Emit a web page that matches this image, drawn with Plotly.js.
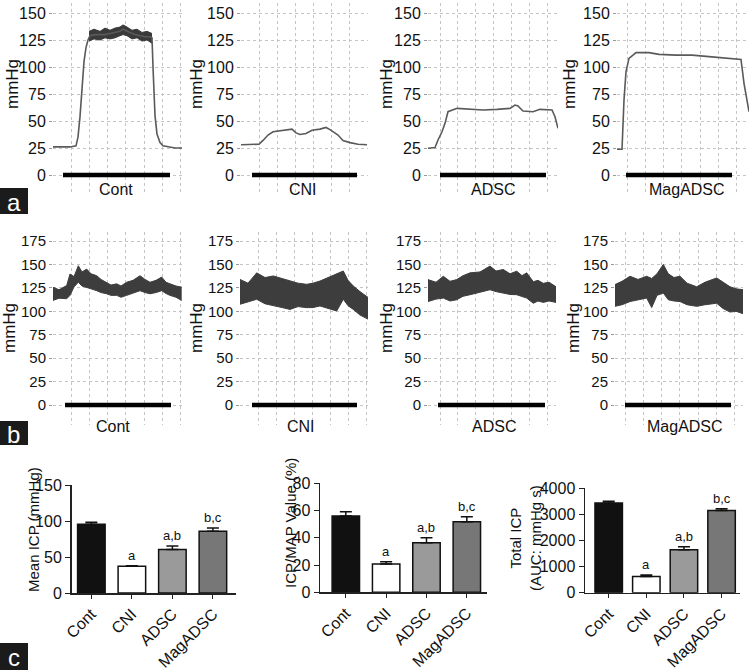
<!DOCTYPE html>
<html><head><meta charset="utf-8">
<script src="https://cdn.plot.ly/plotly-3.0.1.min.js"></script>
<style>html,body{margin:0;padding:0;background:#fff}#chart{width:749px;height:670px}</style>
</head><body><div id="chart"></div>
<script>
// ---------- DATA ----------
const groups = ['Cont', 'CNI', 'ADSC', 'MagADSC'];

// Row a: ICP traces (time in arbitrary units, pressure in mmHg)
const aContT = [0, 9, 17, 23, 25, 27, 29, 31, 33, 35, 37, 42, 47, 52, 57, 62, 67, 70, 74, 77, 82, 87, 92, 97, 99, 100, 101, 102, 104, 107, 110, 117, 122, 129];
const aContV = [26, 26, 26, 27, 35, 54, 85, 105, 118, 125, 129, 130, 130, 130, 131, 132, 133, 135, 133, 132, 130, 129, 128, 128, 127, 100, 75, 55, 38, 30, 27, 26, 25, 25];
const aContBandT = [36, 41, 47, 52, 57, 62, 67, 70, 74, 79, 84, 89, 94, 99];
const aContBandHi = [133, 135, 133, 136, 134, 136, 137, 139, 137, 134, 135, 132, 133, 131];
const aContBandLo = [124, 126, 125, 127, 126, 127, 129, 130, 129, 126, 127, 124, 125, 122];
const aCniT = [0, 9, 18, 22, 27, 32, 39, 47, 51, 55, 59, 65, 71, 79, 85, 89, 93, 97, 102, 109, 117, 126];
const aCniV = [28, 28, 28.5, 32, 37, 40, 41, 42, 42.5, 39, 37.5, 38.5, 41.5, 42.5, 44, 42, 39.5, 37, 32, 30, 28.5, 28];
const aAdscT = [0, 7, 10, 14, 17, 20, 29, 42, 55, 69, 82, 87, 90, 95, 105, 112, 124, 127, 130];
const aAdscV = [24.7, 25.5, 32.4, 40, 47.8, 58.6, 61.7, 60.8, 60.2, 60.8, 61.7, 64.8, 63.9, 59.3, 58.6, 60.8, 60.2, 54, 43.2];
const aMagT = [0, 5, 7, 9, 12, 19, 32, 42, 59, 75, 92, 109, 124, 127, 132];
const aMagV = [23.8, 23.8, 69.4, 95.7, 108, 113.3, 113.3, 111.7, 111, 111, 109.6, 108, 107, 84.9, 58.6];
const stimStartA = [10, 11, 12, 9];
const stimEndA = [117, 116, 118, 115];

// Row b: MAP traces (upper / lower envelope of the pulsatile signal)
const bContT = [0, 6, 13.7, 17, 21, 25.3, 29, 33.7, 38, 43.7, 48, 53.7, 58, 63.7, 68, 73.7, 80, 87, 92, 97, 103, 108.7, 113, 117, 123, 128.7];
const bContHi = [125.7, 123, 127.5, 139.8, 137, 148.6, 142, 145, 140, 138, 134, 131, 128, 129.3, 127, 131, 133, 138, 134, 131, 133, 136.5, 131, 129.3, 127, 125.7];
const bContLo = [111.6, 114, 113.4, 117, 126, 131, 127, 125.7, 124, 122, 120, 118.7, 117, 117, 115, 117, 119, 122, 120, 118.7, 120, 122, 119, 117, 115, 111.6];
const bCniT = [0, 8, 16.7, 25, 33.3, 42, 50, 58, 66.7, 73, 80, 88, 96.7, 103.3, 108, 113.3, 120, 128.3];
const bCniHi = [134, 130, 141, 136, 137.7, 135, 132.3, 130, 128.8, 130, 132.3, 136, 139.5, 143, 133, 127, 121, 114.6];
const bCniLo = [107.5, 110, 112.8, 108, 105.7, 104, 102, 105, 103.9, 104, 105.7, 103, 100.3, 112.8, 106, 102, 96, 91.5];
const bAdscT = [0, 8, 15.3, 22, 28.7, 35, 42, 52, 62, 68, 75.3, 82, 88.7, 94, 98.7, 105.3, 110, 115.3, 121, 128];
const bAdscHi = [133.8, 131, 137.4, 132, 133.8, 138, 141, 142, 148.2, 143, 144.6, 140, 142.8, 138, 141, 131.6, 133, 129.8, 131, 126.2];
const bAdscLo = [110.4, 113, 114.1, 111, 112.3, 116, 117.7, 120, 123, 121, 119.5, 118, 117.7, 116, 114.1, 108.6, 111, 109.5, 111, 109.5];
const bMagT = [0, 7, 15, 23, 31.7, 36.7, 42, 48.3, 53.3, 59, 65, 72, 81.7, 90, 101.7, 108, 115, 121, 128.3];
const bMagHi = [128.5, 132, 137.4, 134, 137.4, 135, 140, 150, 140, 136, 137.4, 130, 126.2, 131, 135.6, 131, 126.2, 124, 123];
const bMagLo = [105.3, 107, 110.4, 112, 114.1, 104, 117, 119.5, 112.3, 111, 110.4, 107, 105.3, 107, 108.6, 103, 99.2, 100, 97.4];
const stimStartB = [12, 12, 10, 10];
const stimEndB = [118, 117, 117, 116];

// Row c: bar summaries
const meanICP = [95.4, 37, 60.3, 85.7];
const meanICPErr = [3, 1, 5, 4.5];
const icpMap = [56, 20.8, 36.4, 51.8];
const icpMapErr = [3.2, 1.7, 3.7, 3.7];
const totalICP = [3440, 620, 1650, 3150];
const totalICPErr = [60, 60, 110, 70];
const sigLabels = ['', 'a', 'a,b', 'b,c'];

// ---------- LAYOUT HELPERS ----------
const W = 749, H = 670;
const px = x => x / W;
const py = y => 1 - y / H;
const FONT = 'Liberation Sans, Arial, sans-serif';
const barColors = ['#111111', '#ffffff', '#9a9a9a', '#777777'];

const traces = [];
const layout = {
  width: W, height: H, margin: {l: 0, r: 0, t: 0, b: 0},
  paper_bgcolor: '#fff', plot_bgcolor: 'rgba(0,0,0,0)',
  showlegend: false, font: {family: FONT, color: '#111'},
  shapes: [], annotations: []
};

// time-series panels
const ts = [
  {x: [53, 182], y: [3, 193], yr: [-16.67, 159.26], w: 129, t0: 0, dt: 18.2, tv: [0, 25, 50, 75, 100, 125, 150], fs: 16},
  {x: [241, 368], y: [3, 193], yr: [-16.67, 159.26], w: 127, t0: 0, dt: 18.1, tv: [0, 25, 50, 75, 100, 125, 150], fs: 16},
  {x: [428, 558], y: [3, 193], yr: [-16.67, 159.26], w: 130, t0: 12, dt: 17.9, tv: [0, 25, 50, 75, 100, 125, 150], fs: 16},
  {x: [617, 749], y: [3, 193], yr: [-16.67, 159.26], w: 132, t0: 10, dt: 18.3, tv: [0, 25, 50, 75, 100, 125, 150], fs: 16},
  {x: [53, 182], y: [232, 425], yr: [-21.3, 184.6], w: 129, t0: 0, dt: 18.2, tv: [0, 25, 50, 75, 100, 125, 150, 175], fs: 15},
  {x: [240, 368], y: [232, 425], yr: [-21.3, 184.6], w: 128, t0: 0, dt: 18.1, tv: [0, 25, 50, 75, 100, 125, 150, 175], fs: 15},
  {x: [428, 556], y: [232, 425], yr: [-21.3, 184.6], w: 128, t0: 12, dt: 17.9, tv: [0, 25, 50, 75, 100, 125, 150, 175], fs: 15},
  {x: [615, 743], y: [232, 425], yr: [-21.3, 184.6], w: 128, t0: 10, dt: 18.3, tv: [0, 25, 50, 75, 100, 125, 150, 175], fs: 15}
];
ts.forEach((p, i) => {
  const n = i + 1;
  const xk = n === 1 ? 'xaxis' : 'xaxis' + n;
  const yk = n === 1 ? 'yaxis' : 'yaxis' + n;
  layout[xk] = {
    domain: [px(p.x[0]), px(p.x[1])], range: [0, p.w], anchor: 'y' + (n === 1 ? '' : n),
    showticklabels: false, ticks: '', showgrid: true, gridcolor: '#c4c4c4', griddash: 'dot', gridwidth: 1,
    tick0: p.t0, dtick: p.dt, zeroline: false, showline: false, fixedrange: true
  };
  layout[yk] = {
    domain: [py(p.y[1]), py(p.y[0])], range: p.yr, anchor: 'x' + (n === 1 ? '' : n),
    tickvals: p.tv, ticks: 'outside', ticklen: 3, tickcolor: '#999', tickwidth: 1,
    showgrid: true, gridcolor: '#c4c4c4', griddash: 'dot', gridwidth: 1,
    zeroline: false, showline: false, tickfont: {size: p.fs, color: '#111', family: FONT}, fixedrange: true
  };
});
const ax = n => ({xaxis: n === 1 ? 'x' : 'x' + n, yaxis: n === 1 ? 'y' : 'y' + n});

// Row a traces
const aT = [aContT, aCniT, aAdscT, aMagT];
const aV = [aContV, aCniV, aAdscV, aMagV];
traces.push(Object.assign({x: aContBandT, y: aContBandLo, mode: 'lines', line: {color: '#3a3a3a', width: 1}}, ax(1)));
traces.push(Object.assign({x: aContBandT, y: aContBandHi, mode: 'lines', fill: 'tonexty', fillcolor: '#3a3a3a', line: {color: '#3a3a3a', width: 1}}, ax(1)));
for (let i = 0; i < 4; i++) {
  traces.push(Object.assign({x: aT[i], y: aV[i], mode: 'lines', line: {color: '#5a5a5a', width: 1.6}}, ax(i + 1)));
  traces.push(Object.assign({x: [stimStartA[i], stimEndA[i]], y: [0, 0], mode: 'lines', line: {color: '#000', width: 4.5}}, ax(i + 1)));
}
// Row b traces
const bT = [bContT, bCniT, bAdscT, bMagT];
const bHi = [bContHi, bCniHi, bAdscHi, bMagHi];
const bLo = [bContLo, bCniLo, bAdscLo, bMagLo];
for (let i = 0; i < 4; i++) {
  traces.push(Object.assign({x: bT[i], y: bLo[i], mode: 'lines', line: {color: '#3d3d3d', width: 1}}, ax(i + 5)));
  traces.push(Object.assign({x: bT[i], y: bHi[i], mode: 'lines', fill: 'tonexty', fillcolor: '#3d3d3d', line: {color: '#3d3d3d', width: 1}}, ax(i + 5)));
  traces.push(Object.assign({x: [stimStartB[i], stimEndB[i]], y: [0, 0], mode: 'lines', line: {color: '#000', width: 4.5}}, ax(i + 5)));
}

// Row labels for traces
const aLabX = [116, 303, 493, 687], bLabX = [113, 301, 494, 685];
const mmX = [13, 197, 387, 570], mmXb = [10, 197, 387, 574];
const ann = (x, y, text, size, extra) => Object.assign({xref: 'paper', yref: 'paper', x: px(x), y: py(y), text: text,
  showarrow: false, font: {size: size, color: '#111'}, xanchor: 'center', yanchor: 'middle'}, extra || {});
for (let i = 0; i < 4; i++) {
  layout.annotations.push(ann(aLabX[i], 190, groups[i], 16));
  layout.annotations.push(ann(bLabX[i], 426, groups[i], 16));
  layout.annotations.push(ann(mmX[i], 84, 'mmHg', 17, {textangle: -90}));
  layout.annotations.push(ann(mmXb[i], 328, 'mmHg', 17, {textangle: -90}));
}

// Bar charts
const bars = [
  {n: 9, x: [71.5, 236], y: [485, 593], xr: [-0.49, 3.57], yr: [0, 150], tv: [0, 50, 100, 150], vals: meanICP, err: meanICPErr, bw: 0.68},
  {n: 10, x: [320, 487], y: [483.3, 592.3], xr: [-0.64, 3.5], yr: [0, 80], tv: [0, 20, 40, 60, 80], vals: icpMap, err: icpMapErr, bw: 0.68},
  {n: 11, x: [585, 740], y: [488.3, 592.7], xr: [-0.63, 3.49], yr: [0, 4000], tv: [0, 1000, 2000, 3000, 4000], vals: totalICP, err: totalICPErr, bw: 0.73}
];
bars.forEach(b => {
  layout['xaxis' + b.n] = {
    domain: [px(b.x[0]), px(b.x[1])], range: b.xr, anchor: 'y' + b.n, type: 'category',
    showline: true, linecolor: '#222', linewidth: 1.5, ticks: 'outside', ticklen: 4, tickcolor: '#222',
    tickangle: -45, tickfont: {size: 16, color: '#111', family: FONT}, showgrid: false, zeroline: false, fixedrange: true
  };
  layout['yaxis' + b.n] = {
    domain: [py(b.y[1]), py(b.y[0])], range: b.yr, anchor: 'x' + b.n, tickvals: b.tv,
    showline: true, linecolor: '#222', linewidth: 1.5, ticks: 'outside', ticklen: 5, tickcolor: '#222',
    tickfont: {size: 16, color: '#111', family: FONT}, showgrid: false, zeroline: false, fixedrange: true
  };
  traces.push({
    type: 'bar', x: groups, y: b.vals, width: b.bw, xaxis: 'x' + b.n, yaxis: 'y' + b.n,
    marker: {color: barColors, line: {color: '#111', width: 1.5}},
    error_y: {type: 'data', symmetric: false, array: b.err, arrayminus: [0, 0, 0, 0], color: '#111', thickness: 1.5, width: 6}
  });
  for (let i = 0; i < 4; i++) {
    if (!sigLabels[i]) continue;
    layout.annotations.push({xref: 'x' + b.n, yref: 'y' + b.n, x: groups[i], y: b.vals[i] + b.err[i], text: sigLabels[i],
      showarrow: false, xanchor: 'center', yanchor: 'bottom', yshift: 1, font: {size: 13, color: '#111'}});
  }
});
layout.annotations.push(ann(33, 530, 'Mean ICP (mmHg)', 15, {textangle: -90}));
layout.annotations.push(ann(290, 523, 'ICP/MAP Value (%)', 15, {textangle: -90}));
layout.annotations.push(ann(525, 538, 'Total ICP<br>(AUC: mmHg s)', 15, {textangle: -90}));

// panel letters
const letters = [['a', 188, 214], ['b', 421, 445], ['c', 643, 670]];
letters.forEach(l => {
  layout.shapes.push({type: 'rect', xref: 'paper', yref: 'paper', x0: 0, x1: px(28), y0: py(l[2]), y1: py(l[1]), fillcolor: '#1b1b1b', line: {width: 0}});
  layout.annotations.push(Object.assign(ann(14, (l[1] + l[2]) / 2 + 1, l[0], 24), {font: {size: 24, color: '#fff'}}));
});

Plotly.newPlot('chart', traces, layout, {displayModeBar: false, staticPlot: true});
</script></body></html>
